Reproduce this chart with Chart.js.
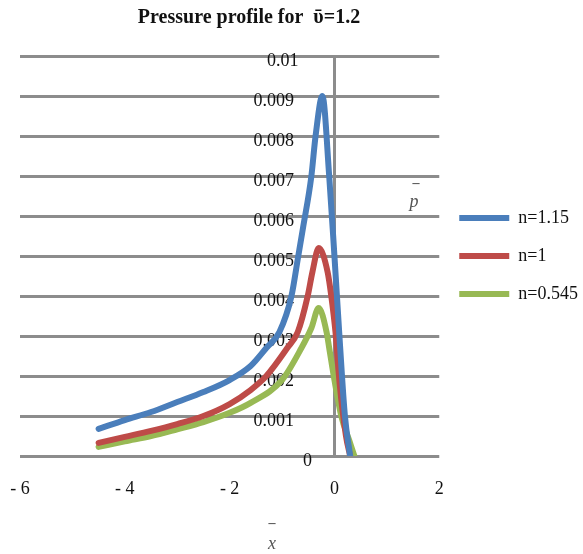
<!DOCTYPE html>
<html>
<head>
<meta charset="utf-8">
<script src="https://cdn.jsdelivr.net/npm/chart.js@4.4.1/dist/chart.umd.min.js"></script>
<style>
  html, body { margin: 0; padding: 0; background: #fff; }
  #wrap { width: 583px; height: 554px; }
</style>
</head>
<body>
<div id="wrap"><canvas id="pressureChart" width="583" height="554"></canvas></div>
<script>
// データ
const seriesLabels = ['n=1.15', 'n=1', 'n=0.545'];
const xN115 = [-4.5, -4, -3.5, -3, -2.5, -2, -1.6, -1.3, -1.05, -0.82, -0.69, -0.6, -0.44, -0.36, -0.23, -0.1, 0, 0.1, 0.2, 0.3];
const pN115 = [0.00068, 0.0009, 0.0011, 0.00135, 0.0016, 0.0019, 0.00225, 0.0027, 0.0031, 0.004, 0.005, 0.0057, 0.007, 0.008, 0.009, 0.007, 0.005, 0.0029, 0.001, 0];
const xN1 = [-4.5, -4, -3.5, -3, -2.5, -2, -1.6, -1.3, -0.9, -0.7, -0.51, -0.42, -0.3, -0.13, -0.06, 0.02, 0.1, 0.22, 0.3];
const pN1 = [0.00033, 0.00048, 0.00063, 0.0008, 0.001, 0.0013, 0.00165, 0.002, 0.0027, 0.0031, 0.004, 0.0046, 0.0052, 0.0046, 0.004, 0.0031, 0.0018, 0.0005, 0];
const xN0545 = [-4.5, -4, -3.5, -3, -2.5, -2, -1.6, -1, -0.63, -0.44, -0.3, -0.15, -0.1, 0, 0.13, 0.28, 0.38];
const pN0545 = [0.00023, 0.00037, 0.0005, 0.00067, 0.00085, 0.00108, 0.00133, 0.0019, 0.0027, 0.0032, 0.0037, 0.0031, 0.0027, 0.0019, 0.001, 0.0004, 0];
const xTicks = [-6, -4, -2, 0, 2];
const yTicks = [0, 0.001, 0.002, 0.003, 0.004, 0.005, 0.006, 0.007, 0.008, 0.009, 0.01];

const colors = ['#4a7ebb', '#be4b48', '#98b954'];
const serif = "'Liberation Serif', 'DejaVu Serif', serif";

function toPoints(xs, ys) {
    return xs.map((x, i) => ({ x: x, y: ys[i] }));
}

// y目盛りラベル（軸線から離すため末尾に空白を付ける）
function yLabel(v) {
    const s = String(parseFloat(v.toFixed(3)));
    const gap = v === 0 ? 5 : (s === '0.01' ? 8 : 9);
    return ['', s + ' '.repeat(gap)];
}

// タイトルと軸ラベル
const textPlugin = {
    id: 'extraText',
    afterDraw(chart) {
        const ctx = chart.ctx;
        ctx.save();
        ctx.fillStyle = '#111';
        ctx.textAlign = 'center';
        ctx.textBaseline = 'middle';
        ctx.font = 'bold 20px ' + serif;
        ctx.fillText('Pressure profile for  \u1FE1=1.2', 249, 18);

        ctx.fillStyle = '#555';
        ctx.font = 'italic 18px ' + serif;
        ctx.fillText('p', 414, 202);
        ctx.fillText('x', 272, 544);
        ctx.font = 'bold 14px ' + serif;
        ctx.fillText('\u2013', 416, 183);
        ctx.fillText('\u2013', 272, 523);
        ctx.restore();
    }
};

const series = [[xN115, pN115], [xN1, pN1], [xN0545, pN0545]];

const chart = new Chart(document.getElementById('pressureChart'), {
    type: 'scatter',
    data: {
        datasets: series.map(([xs, ys], i) => ({
            label: seriesLabels[i],
            data: toPoints(xs, ys),
            showLine: true,
            borderColor: colors[i],
            backgroundColor: colors[i],
            borderWidth: 6,
            borderCapStyle: 'round',
            borderJoinStyle: 'round',
            pointRadius: 0,
            cubicInterpolationMode: 'monotone'
        }))
    },
    options: {
        responsive: false,
        animation: false,
        layout: { padding: { top: 56, left: 20, right: 4, bottom: 52 } },
        plugins: {
            legend: {
                position: 'right',
                fullSize: false,
                labels: {
                    usePointStyle: true,
                    pointStyle: 'line',
                    pointStyleWidth: 50,
                    padding: 20,
                    color: '#111',
                    font: { family: serif, size: 18 }
                }
            },
            tooltip: { enabled: false }
        },
        scales: {
            x: {
                type: 'linear',
                min: -6,
                max: 2,
                afterBuildTicks: axis => { axis.ticks = xTicks.map(v => ({ value: v })); },
                grid: { display: false, drawTicks: false },
                border: { display: false },
                ticks: {
                    padding: 3,
                    color: '#111',
                    font: { family: serif, size: 18, lineHeight: 1.11 },
                    // 空行で目盛りラベルを軸から下げる
                    callback: v => ['', v < 0 ? '- ' + Math.abs(v) : String(v)]
                }
            },
            y: {
                type: 'linear',
                position: { x: 0 },
                min: 0,
                max: 0.01,
                afterBuildTicks: axis => { axis.ticks = yTicks.map(v => ({ value: v })); },
                grid: { color: '#8c8c8c', lineWidth: 3, drawTicks: false },
                border: { display: true, color: '#8c8c8c', width: 3 },
                ticks: {
                    color: '#111',
                    font: { family: serif, size: 18, lineHeight: 0.55 },
                    callback: yLabel
                }
            }
        }
    },
    plugins: [textPlugin]
});
</script>
</body>
</html>
